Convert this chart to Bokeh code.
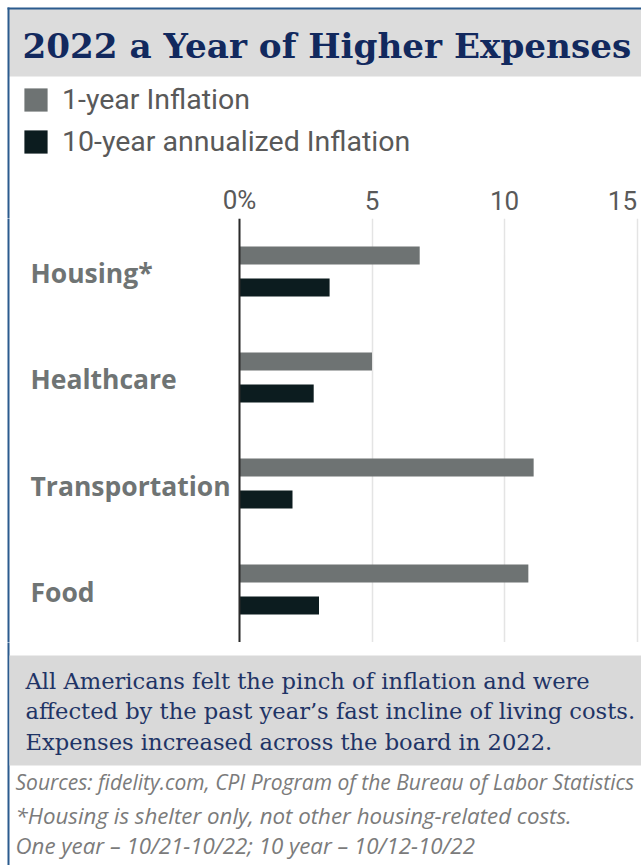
from bokeh.plotting import figure
from bokeh.layouts import column
from bokeh.models import (ColumnDataSource, FactorRange, Range1d, FixedTicker, Grid,
                          BoxAnnotation, Label, LabelSet, Legend, LegendItem, Span)
from bokeh.core.properties import value
from bokeh.embed import file_html
from bokeh.resources import INLINE

# ---------------- data ----------------
title_text = "2022 a Year of Higher Expenses"
categories = ["Housing*", "Healthcare", "Transportation", "Food"]
series_names = ["1-year Inflation", "10-year annualized Inflation"]
one_year = [6.8, 5.0, 11.1, 10.9]
ten_year = [3.4, 2.8, 2.0, 3.0]
tick_values = [0, 5, 10, 15]
tick_labels = ["0%", "5", "10", "15"]
body_lines = [
    "All Americans felt the pinch of inflation and were",
    "affected by the past year\u2019s fast incline of living costs.",
    "Expenses increased across the board in 2022.",
]
note_lines = [
    "Sources: fidelity.com, CPI Program of the Bureau of Labor Statistics",
    "*Housing is shelter only, not other housing-related costs.",
    "One year \u2013 10/21-10/22; 10 year \u2013 10/12-10/22",
]

# ---------------- layout ----------------
W = 641
H_HEAD, H_CHART, H_FOOT = 218, 424, 223
AXIS_X = 239            # pixel position of the 0 line
PX_PER_UNIT = 26.5

C_ONE = "#6e7373"
C_TEN = "#0c1c1f"
C_NAVY = "#12295e"
C_GREY_TXT = "#595959"
C_BORDER = "#2b5b8e"

x_range = Range1d(-AXIS_X / PX_PER_UNIT, (W - AXIS_X) / PX_PER_UNIT)


def base_fig(h, y_range):
    return figure(width=W, height=h, x_range=x_range, y_range=y_range,
                  x_axis_type=None, y_axis_type=None, title=None,
                  output_backend="svg", toolbar_location=None, min_border=0,
                  outline_line_color=None, background_fill_color="white",
                  border_fill_color="white")


def sbox(f, left, right, top, bottom, color):
    # top/bottom given as pixel rows from the top of this figure
    h = f.height
    f.add_layout(BoxAnnotation(left=left, right=right, top=h - top, bottom=h - bottom,
                               left_units="screen", right_units="screen",
                               top_units="screen", bottom_units="screen",
                               fill_color=color, fill_alpha=1, line_color=None,
                               level="underlay"))


def slabel(f, x, y, text, **kw):
    # y = vertical centre of the text line, in pixel rows from the figure top
    f.add_layout(Label(x=x, y=f.height - y, x_units="screen", y_units="screen",
                       text=text, text_baseline="middle", **kw))


# ---------------- header ----------------
head = base_fig(H_HEAD, Range1d(0, H_HEAD))
sbox(head, 8, W, 8, 76, "#dcdcdc")
sbox(head, 7, W, 7, 9, C_BORDER)
sbox(head, 7, 9, 7, H_HEAD + 5, C_BORDER)
slabel(head, 22, 45, title_text, text_font="DejaVu Serif", text_font_style="bold",
       text_font_size="34.2px", text_color=C_NAVY, text_align="left")

# legend swatches come from off-screen proxy bars in the header figure
proxy = ColumnDataSource(dict(y=[-1000], right=[0]))
d1 = head.hbar(y="y", right="right", left=0, height=1, source=proxy,
               fill_color=C_ONE, line_color=None)
d2 = head.hbar(y="y", right="right", left=0, height=1, source=proxy,
               fill_color=C_TEN, line_color=None)
legend = Legend(items=[LegendItem(label=series_names[0], renderers=[d1]),
                       LegendItem(label=series_names[1], renderers=[d2])],
                location=(21, H_HEAD - 158), orientation="vertical",
                glyph_width=29, glyph_height=29, label_standoff=12, spacing=9,
                padding=0, margin=0, border_line_color=None,
                background_fill_alpha=0, label_text_font="Roboto",
                label_text_font_size="28.5px", label_text_color=C_GREY_TXT)
head.add_layout(legend, "center")

for v, lab in zip(tick_values, tick_labels):
    head.add_layout(Label(x=v, x_units="data", y=H_HEAD - 199.5, y_units="screen",
                          text=lab,
                          text_align="right" if v == tick_values[-1] else "center",
                          text_baseline="middle", text_font="Roboto",
                          text_font_size="26px", text_color=C_GREY_TXT))

# ---------------- chart ----------------
sub = ["10y", "1y"]
factors = []
for c in reversed(categories):
    factors += [(c, sub[0]), (c, sub[1])]
y_range = FactorRange(factors=factors, factor_padding=0.0, group_padding=1.3125,
                      range_padding=0.656, range_padding_units="absolute")
chart = base_fig(H_CHART, y_range)
sbox(chart, 7, 9, -5, H_CHART + 5, C_BORDER)

chart.add_layout(Grid(dimension=0, ticker=FixedTicker(ticks=tick_values),
                      grid_line_color="#e4e4e4", grid_line_width=1.5))

src_one = ColumnDataSource(dict(y=[(c, "1y") for c in categories], right=one_year))
src_ten = ColumnDataSource(dict(y=[(c, "10y") for c in categories], right=ten_year))
chart.hbar(y="y", right="right", left=0, height=0.5625, source=src_one,
           fill_color=C_ONE, line_color=None)
chart.hbar(y="y", right="right", left=0, height=0.5625, source=src_ten,
           fill_color=C_TEN, line_color=None)
chart.add_layout(Span(location=0, dimension="height", line_color="#2b2b2b", line_width=2))

cat_src = ColumnDataSource(dict(cat=categories, name=categories))
chart.add_layout(LabelSet(x=30, x_units="screen", y="cat", y_units="data", text="name",
                          source=cat_src, text_align="left", text_baseline="middle",
                          y_offset=-2,
                          text_font=value("Open Sans"), text_font_style="bold",
                          text_font_size="26.5px", text_color="#6f7474"))

# ---------------- footer ----------------
foot = base_fig(H_FOOT, Range1d(0, H_FOOT))
TOP = H_HEAD + H_CHART      # page row where footer starts
sbox(foot, 7, 9, -5, H_FOOT + 5, C_BORDER)
sbox(foot, 9, W, 655 - TOP, 765 - TOP, "#d9d9d9")
for i, line in enumerate(body_lines):
    slabel(foot, 25, 680 + 30.5 * i - TOP, line, text_font="DejaVu Serif",
           text_font_size="22.6px", text_color="#1f3466")
for line, c, fs in zip(note_lines, [781, 815, 845], ["21px", "22.3px", "22.3px"]):
    slabel(foot, 15, c - TOP, line, text_font="Open Sans", text_font_style="italic",
           text_font_size=fs, text_color="#7b7b7b")

layout = column(head, chart, foot, spacing=0)
open("out.html", "w").write(file_html(layout, INLINE))
